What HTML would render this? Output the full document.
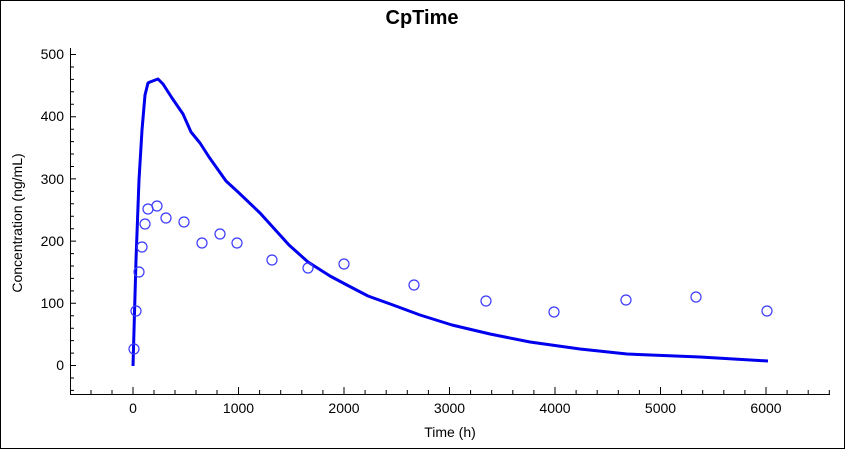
<!DOCTYPE html>
<html><head><meta charset="utf-8"><style>
html,body{margin:0;padding:0;background:#fff}
svg{display:block}
text{font-family:"Liberation Sans","DejaVu Sans",sans-serif}
</style></head><body>
<svg width="845" height="449" viewBox="0 0 845 449" xmlns="http://www.w3.org/2000/svg">
<rect x="0.5" y="0.5" width="844" height="448" fill="#fff" stroke="#000"/>
<text x="422" y="24" font-size="20" font-weight="bold" text-anchor="middle">CpTime</text>
<g stroke="#000" stroke-width="1" fill="none">
<path d="M70.5 48V394.5H830"/>
<path d="M133 394v-7M238.5 394v-7M344 394v-7M449.5 394v-7M555 394v-7M660.5 394v-7M766 394v-7"/>
<path d="M91 394v-4M112 394v-4M154 394v-4M175 394v-4M196 394v-4M217 394v-4M259.6 394v-4M280.7 394v-4M301.8 394v-4M322.9 394v-4M365.1 394v-4M386.2 394v-4M407.3 394v-4M428.4 394v-4M470.6 394v-4M491.7 394v-4M512.8 394v-4M533.9 394v-4M576.1 394v-4M597.2 394v-4M618.3 394v-4M639.4 394v-4M681.6 394v-4M702.7 394v-4M723.8 394v-4M744.9 394v-4M787.1 394v-4M808.2 394v-4M829.3 394v-4"/>
<path d="M70 365.5h6M70 303.3h6M70 241.1h6M70 178.9h6M70 116.7h6M70 54.5h6"/>
<path d="M70 390.4h4M70 378h4M70 353.1h4M70 340.6h4M70 328.2h4M70 315.8h4M70 290.9h4M70 278.4h4M70 266h4M70 253.6h4M70 228.7h4M70 216.2h4M70 203.8h4M70 191.4h4M70 166.5h4M70 154h4M70 141.6h4M70 129.2h4M70 104.3h4M70 91.8h4M70 79.4h4M70 67h4"/>
</g>
<g font-size="14" fill="#000" text-anchor="middle">
<text x="133" y="413">0</text><text x="238.5" y="413">1000</text><text x="344" y="413">2000</text><text x="449.5" y="413">3000</text><text x="555" y="413">4000</text><text x="660.5" y="413">5000</text><text x="766" y="413">6000</text>
</g>
<g font-size="14" fill="#000" text-anchor="end">
<text x="64" y="370">0</text><text x="64" y="308">100</text><text x="64" y="246">200</text><text x="64" y="184">300</text><text x="64" y="121">400</text><text x="64" y="59">500</text>
</g>
<text x="450" y="437" font-size="14" text-anchor="middle">Time (h)</text>
<text transform="translate(22,223) rotate(-90)" font-size="14" text-anchor="middle">Concentration (ng/mL)</text>
<polyline fill="none" stroke="#0000ee" stroke-width="3" stroke-linejoin="round" points="133,366 136,260 139,180 142,130 145,95 148,83 150,82 158,79 163,84 172,98 183,114 191,132 200,143 209,157 226,181 238,192 260,213 289,245 308,262 330,276 345,284 368,296 393,305 420,315 452,325 490,334 530,342 580,349 627,354 700,357 768,361"/>
<g fill="none" stroke="#3a3aff" stroke-width="1.2">
<circle cx="134" cy="349" r="5"/><circle cx="136" cy="311" r="5"/><circle cx="139" cy="272" r="5"/><circle cx="142" cy="247" r="5"/><circle cx="145" cy="224" r="5"/><circle cx="148" cy="209" r="5"/><circle cx="157" cy="206" r="5"/><circle cx="166" cy="218" r="5"/><circle cx="184" cy="222" r="5"/><circle cx="202" cy="243" r="5"/><circle cx="220" cy="234" r="5"/><circle cx="237" cy="243" r="5"/><circle cx="272" cy="260" r="5"/><circle cx="308" cy="268" r="5"/><circle cx="344" cy="264" r="5"/><circle cx="414" cy="285" r="5"/><circle cx="486" cy="301" r="5"/><circle cx="554" cy="312" r="5"/><circle cx="626" cy="300" r="5"/><circle cx="696" cy="297" r="5"/><circle cx="767" cy="311" r="5"/>
</g>
</svg>
</body></html>
